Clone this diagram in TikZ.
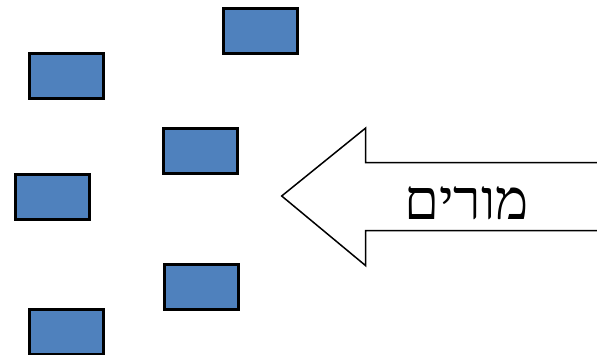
\documentclass[tikz,border=0pt]{standalone}
\usepackage{fontspec}
\TeXXeTstate=1
\newfontfamily\hebfont[Script=Hebrew]{Liberation Serif}
\definecolor{boxblue}{RGB}{79,129,189}
\begin{document}
\begin{tikzpicture}[x=1pt, y=-1pt,
        card/.style={rectangle, draw=black, line width=3pt, fill=boxblue, minimum width=74pt, minimum height=45pt, inner sep=0pt},
        bigarrow/.style={draw=black, line width=1.5pt, fill=white, line join=miter},
        label/.style={font=\hebfont\fontsize{56}{60}\selectfont, inner sep=0pt}
    ]
        \useasboundingbox (0,0) rectangle (597,355);
        \clip (0,0) rectangle (597,355);

        % Boxes
        \node[card] (b1) at (260.5,31) {};
        \node[card] (b2) at (66.5,76) {};
        \node[card] (b3) at (200.5,151.5) {};
        \node[card] (b4) at (52,197) {};
        \node[card] (b5) at (201,287.5) {};
        \node[card] (b6) at (66.5,332.3) {};

        % Arrow
        \draw[bigarrow] (610,162.7) -- (365.7,162.7) -- (365.7,128) -- (281.7,196)
            -- (365.7,265.7) -- (365.7,230.7) -- (610,230.7);
        \node[label] (word) at (466.7,203) {\beginR מורים\endR};
    \end{tikzpicture}
\end{document}
